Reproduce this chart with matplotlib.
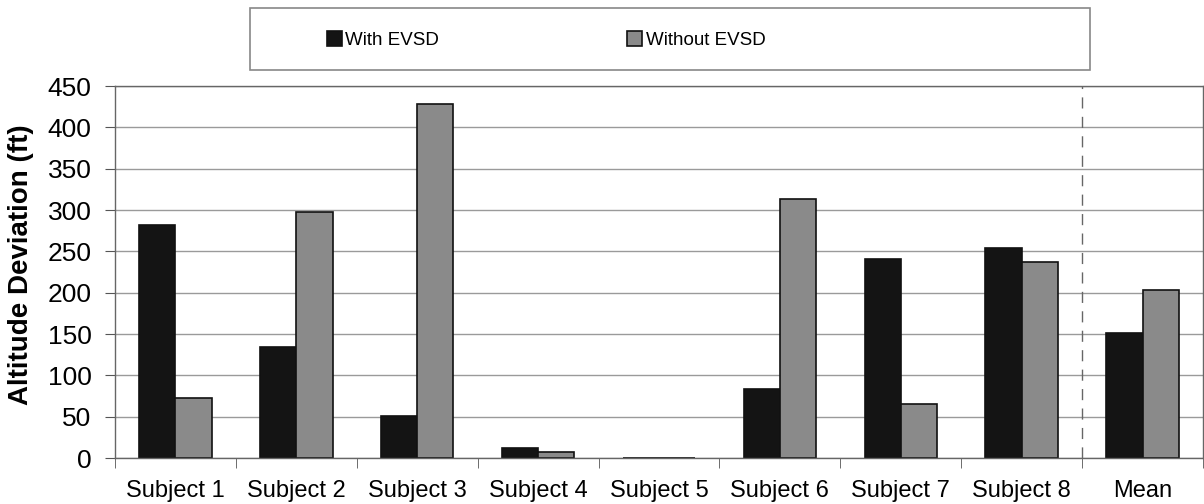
import numpy as np
import matplotlib.pyplot as plt
from matplotlib.patches import Rectangle

categories = ["Subject 1", "Subject 2", "Subject 3", "Subject 4", "Subject 5",
              "Subject 6", "Subject 7", "Subject 8", "Mean"]
with_evsd = [282, 134, 51, 12, 0, 83, 241, 254, 151]
without_evsd = [72, 297, 428, 7, 0, 313, 65, 237, 203]

plt.rcParams['font.family'] = ['Liberation Sans', 'DejaVu Sans']

fig = plt.figure(figsize=(12.04, 5.04), dpi=100)
ax = fig.add_axes([115 / 1204, 46 / 504, 1088 / 1204, 372 / 504])

x = np.arange(len(categories))
w = 0.3
ax.bar(x - w / 2, with_evsd, w, color="#141414", edgecolor="#111111",
       linewidth=1.2, label="With EVSD", zorder=3)
ax.bar(x + w / 2, without_evsd, w, color="#8a8a8a", edgecolor="#111111",
       linewidth=1.2, label="Without EVSD", zorder=3)

ax.set_xlim(-0.5, len(categories) - 0.5)
ax.set_ylim(0, 450)
ax.set_yticks(np.arange(0, 451, 50))
ax.yaxis.grid(True, color="#9a9a9a", linewidth=1.0, zorder=0)
ax.set_axisbelow(True)

ax.set_xticks(x)
ax.set_xticklabels(categories, fontsize=17)
ax.set_xticks(np.arange(-0.5, len(categories)), minor=True)
ax.tick_params(axis="x", which="major", length=0, pad=16)
ax.tick_params(axis="x", which="minor", length=7, direction="out", color="#555555")
ax.tick_params(axis="y", labelsize=19, length=7, color="#555555", pad=10)

# separator between subjects and mean
ax.axvline(len(categories) - 1.5, color="#666666", linestyle=(0, (8, 6)),
           linewidth=1.0, zorder=2)

for s in ax.spines.values():
    s.set_color("#666666")
    s.set_linewidth(1.0)
    s.set_zorder(4)

ax.set_ylabel("Altitude Deviation (ft)", fontsize=20, fontweight="bold")
ax.yaxis.set_label_coords(-0.074, 0.52)

# legend box
fig.patches.append(Rectangle((250 / 1204, (504 - 70) / 504), 840 / 1204, 62 / 504,
                             transform=fig.transFigure, fill=False,
                             edgecolor="#888888", linewidth=1.2))
fig.legend(loc="center", bbox_to_anchor=(546 / 1204, (504 - 40) / 504), ncol=2,
           frameon=False, fontsize=13.5, handlelength=0.8, handleheight=0.8,
           handletextpad=0.2, columnspacing=10.0)

fig.savefig("out.png", dpi=100)
